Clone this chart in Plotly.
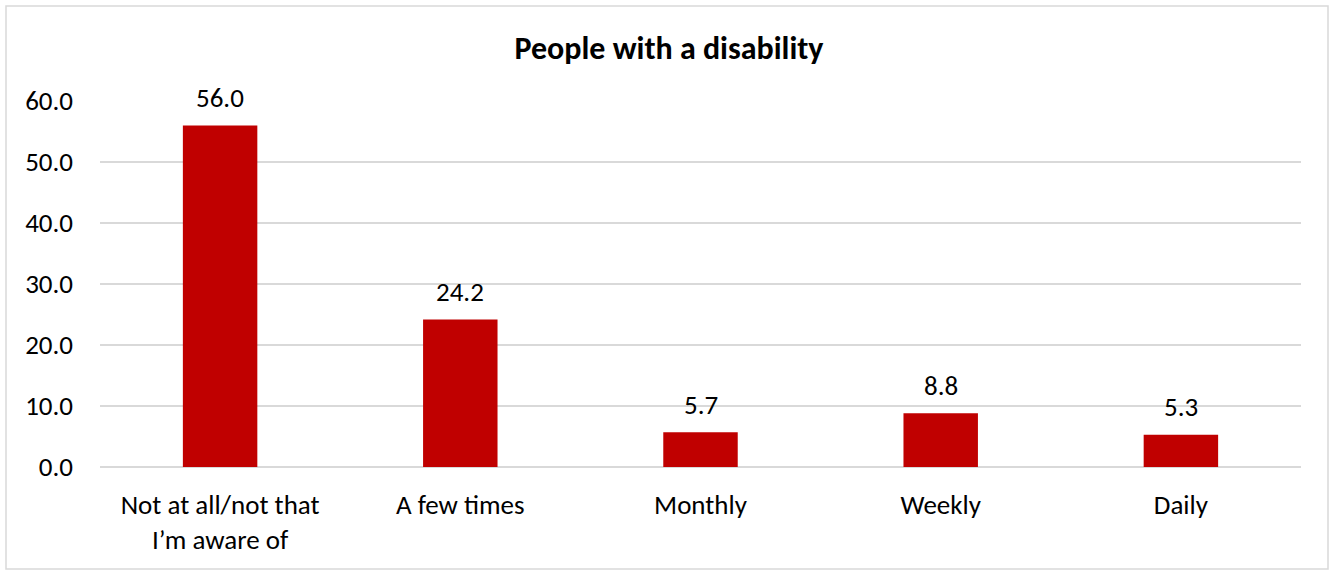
import plotly.graph_objects as go

categories = ["Not at all/not that<br>I\u2019m aware of", "A few times", "Monthly", "Weekly", "Daily"]
values = [56.0, 24.2, 5.7, 8.8, 5.3]
y_ticks = [0, 10, 20, 30, 40, 50, 60]

FONT = "Carlito, Lato, sans-serif"

fig = go.Figure(go.Bar(
    x=categories, y=values,
    marker=dict(color="#C00000", line=dict(width=0)),
    hoverinfo="x+y",
))

for c, v in zip(categories, values):
    fig.add_annotation(x=c, y=v, text=f"{v:.1f}", showarrow=False,
                       yanchor="middle", yshift=28,
                       font=dict(family=FONT, size=27, color="#000000"))

# plot area geometry for border shape
L, R, T, B = 100, 29, 101, 104
W, H = 1330, 571
pw, ph = W - L - R, H - T - B

def px_x(x):
    return (x - L) / pw

def px_y(y):
    return (H - B - y) / ph

fig.add_shape(type="rect", xref="paper", yref="paper",
              x0=px_x(6), x1=px_x(1328), y0=px_y(6), y1=px_y(569),
              line=dict(color="#D9D9D9", width=1.5), fillcolor="rgba(0,0,0,0)", layer="below")

fig.update_layout(
    width=W, height=H,
    margin=dict(l=L, r=R, t=T, b=B),
    paper_bgcolor="white", plot_bgcolor="white",
    font=dict(family=FONT, color="#000000"),
    title=dict(text="<b>People with a disability</b>", x=(669 - L) / pw, xref="paper", xanchor="center",
               y=1 - 48 / H, yanchor="middle", font=dict(family=FONT, size=32, color="#000000")),
    bargap=0.69,
    showlegend=False,
    xaxis=dict(showgrid=False, showline=False, ticks="", tickfont=dict(family=FONT, size=27),
               ticklabelstandoff=19),
    yaxis=dict(range=[0, 60], tickvals=y_ticks, ticktext=[f"{v:.1f}" for v in y_ticks],
               showgrid=True, gridcolor="#D9D9D9", gridwidth=1.5, zeroline=True,
               zerolinecolor="#D9D9D9", zerolinewidth=1.5, showline=False, ticks="",
               tickfont=dict(family=FONT, size=27), ticklabelstandoff=26),
)

fig.write_html("out.html", config={"displayModeBar": False},
               post_script="document.body.style.margin='0px';")
